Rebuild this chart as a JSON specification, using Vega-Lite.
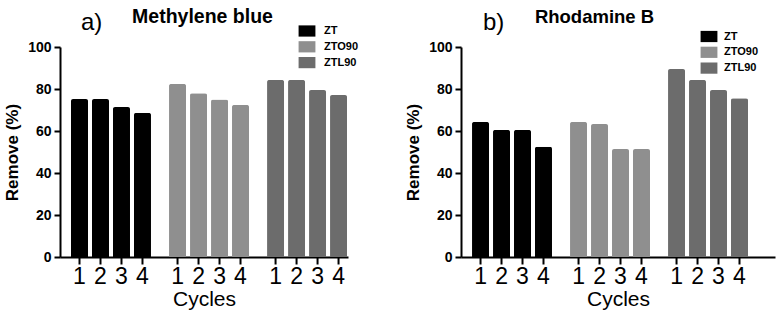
{
  "$schema": "https://vega.github.io/schema/vega-lite/v6.json",
  "padding": {"left": 3, "top": 7, "right": 6, "bottom": 5},
  "spacing": 45,
  "config": {
    "font": "Liberation Sans",
    "view": {"stroke": null},
    "axis": {"grid": false, "domainColor": "#000", "tickColor": "#000", "labelColor": "#000", "titleColor": "#000"}
  },
  "resolve": {"scale": {"color": "independent", "x": "independent", "xOffset": "independent", "y": "independent"}},
  "hconcat": [
    {
      "width": 288,
      "height": 210,
      "data": {"values": [
        {"sample": "ZT", "cycle": "1", "v": 75.2},
        {"sample": "ZT", "cycle": "2", "v": 75.2},
        {"sample": "ZT", "cycle": "3", "v": 71.4},
        {"sample": "ZT", "cycle": "4", "v": 68.6},
        {"sample": "ZTO90", "cycle": "1", "v": 82.4},
        {"sample": "ZTO90", "cycle": "2", "v": 78.0},
        {"sample": "ZTO90", "cycle": "3", "v": 75.0},
        {"sample": "ZTO90", "cycle": "4", "v": 72.4},
        {"sample": "ZTL90", "cycle": "1", "v": 84.3},
        {"sample": "ZTL90", "cycle": "2", "v": 84.3},
        {"sample": "ZTL90", "cycle": "3", "v": 79.5},
        {"sample": "ZTL90", "cycle": "4", "v": 77.1}
      ]},
      "layer": [
        {
          "mark": {"type": "bar", "cornerRadiusEnd": 2},
          "encoding": {
            "x": {"field": "sample", "type": "nominal", "sort": ["ZT", "ZTO90", "ZTL90"],
              "scale": {"domain": ["ZT", "ZTO90", "ZTL90"], "paddingInner": 0.184, "paddingOuter": 0.061, "align": 0.92},
              "axis": {"labels": false, "ticks": false, "domainWidth": 2, "title": "Cycles", "titleFontSize": 21, "titleFontWeight": "normal", "titlePadding": 31}},
            "xOffset": {"field": "cycle", "type": "nominal", "scale": {"domain": ["1", "2", "3", "4"], "paddingInner": 0.19, "paddingOuter": 0}},
            "y": {"field": "v", "type": "quantitative", "scale": {"domain": [0, 100], "nice": false},
              "axis": {"values": [0, 20, 40, 60, 80, 100], "title": "Remove (%)", "titleFontSize": 17, "titleFontWeight": "bold", "titlePadding": 6,
                "labelFontSize": 14, "labelFontWeight": "bold", "labelPadding": 3, "tickSize": 6, "tickWidth": 2, "domainWidth": 2}},
            "color": {"field": "sample", "type": "nominal", "scale": {"domain": ["ZT", "ZTO90", "ZTL90"], "range": ["#000000", "#8f8f8f", "#6c6c6c"]},
              "legend": {"title": null, "orient": "none", "legendX": 241, "legendY": -22, "padding": 0,
                "symbolType": "M-1.5,-1L1.5,-1L1.5,1L-1.5,1Z", "symbolSize": 126, "symbolStrokeWidth": 0, "symbolOpacity": 1,
                "labelFontSize": 11, "labelFontWeight": "bold", "labelColor": "#000", "labelOffset": 11, "rowPadding": 3.8}}
          }
        },
        {
          "mark": {"type": "point", "shape": "M0,0L0,1", "size": 225, "filled": false, "strokeWidth": 2, "color": "#000", "opacity": 1},
          "encoding": {
            "x": {"field": "sample", "type": "nominal"},
            "xOffset": {"field": "cycle", "type": "nominal"},
            "y": {"datum": 0}
          }
        },
        {
          "mark": {"type": "text", "fontSize": 23, "baseline": "alphabetic", "dy": 27, "color": "#000"},
          "encoding": {
            "x": {"field": "sample", "type": "nominal"},
            "xOffset": {"field": "cycle", "type": "nominal"},
            "y": {"datum": 0},
            "text": {"field": "cycle"}
          }
        },
        {
          "data": {"values": [{"lab": "a)"}]},
          "mark": {"type": "text", "fontSize": 24, "align": "left", "baseline": "alphabetic", "dx": -30, "dy": -17, "color": "#000"},
          "encoding": {
            "x": {"datum": "ZT"},
            "y": {"datum": 100},
            "text": {"field": "lab"}
          }
        },
        {
          "data": {"values": [{"lab": "Methylene blue"}]},
          "mark": {"type": "text", "fontSize": 19.5, "fontWeight": "bold", "align": "center", "baseline": "alphabetic", "dx": -6.5, "dy": -24, "color": "#000"},
          "encoding": {
            "x": {"datum": "ZTO90"},
            "y": {"datum": 100},
            "text": {"field": "lab"}
          }
        }
      ]
    },
    {
      "width": 314,
      "height": 210,
      "data": {"values": [
        {"sample": "ZT", "cycle": "1", "v": 64.3},
        {"sample": "ZT", "cycle": "2", "v": 60.5},
        {"sample": "ZT", "cycle": "3", "v": 60.5},
        {"sample": "ZT", "cycle": "4", "v": 52.5},
        {"sample": "ZTO90", "cycle": "1", "v": 64.3},
        {"sample": "ZTO90", "cycle": "2", "v": 63.3},
        {"sample": "ZTO90", "cycle": "3", "v": 51.4},
        {"sample": "ZTO90", "cycle": "4", "v": 51.4},
        {"sample": "ZTL90", "cycle": "1", "v": 89.5},
        {"sample": "ZTL90", "cycle": "2", "v": 84.3},
        {"sample": "ZTL90", "cycle": "3", "v": 79.5},
        {"sample": "ZTL90", "cycle": "4", "v": 75.6}
      ]},
      "layer": [
        {
          "mark": {"type": "bar", "cornerRadiusEnd": 2},
          "encoding": {
            "x": {"field": "sample", "type": "nominal", "sort": ["ZT", "ZTO90", "ZTL90"],
              "scale": {"domain": ["ZT", "ZTO90", "ZTL90"], "paddingInner": 0.184, "paddingOuter": 0.194, "align": 0.29},
              "axis": {"labels": false, "ticks": false, "domainWidth": 2, "title": "Cycles", "titleFontSize": 21, "titleFontWeight": "normal", "titlePadding": 31}},
            "xOffset": {"field": "cycle", "type": "nominal", "scale": {"domain": ["1", "2", "3", "4"], "paddingInner": 0.19, "paddingOuter": 0}},
            "y": {"field": "v", "type": "quantitative", "scale": {"domain": [0, 100], "nice": false},
              "axis": {"values": [0, 20, 40, 60, 80, 100], "title": "Remove (%)", "titleFontSize": 17, "titleFontWeight": "bold", "titlePadding": 6,
                "labelFontSize": 14, "labelFontWeight": "bold", "labelPadding": 3, "tickSize": 6, "tickWidth": 2, "domainWidth": 2}},
            "color": {"field": "sample", "type": "nominal", "scale": {"domain": ["ZT", "ZTO90", "ZTL90"], "range": ["#000000", "#8f8f8f", "#6c6c6c"]},
              "legend": {"title": null, "orient": "none", "legendX": 242, "legendY": -16.5, "padding": 0,
                "symbolType": "M-1.5,-1L1.5,-1L1.5,1L-1.5,1Z", "symbolSize": 126, "symbolStrokeWidth": 0, "symbolOpacity": 1,
                "labelFontSize": 11, "labelFontWeight": "bold", "labelColor": "#000", "labelOffset": 9, "rowPadding": 3.8}}
          }
        },
        {
          "mark": {"type": "point", "shape": "M0,0L0,1", "size": 225, "filled": false, "strokeWidth": 2, "color": "#000", "opacity": 1},
          "encoding": {
            "x": {"field": "sample", "type": "nominal"},
            "xOffset": {"field": "cycle", "type": "nominal"},
            "y": {"datum": 0}
          }
        },
        {
          "mark": {"type": "text", "fontSize": 23, "baseline": "alphabetic", "dy": 27, "color": "#000"},
          "encoding": {
            "x": {"field": "sample", "type": "nominal"},
            "xOffset": {"field": "cycle", "type": "nominal"},
            "y": {"datum": 0},
            "text": {"field": "cycle"}
          }
        },
        {
          "data": {"values": [{"lab": "b)"}]},
          "mark": {"type": "text", "fontSize": 24, "align": "left", "baseline": "alphabetic", "dx": -29, "dy": -17, "color": "#000"},
          "encoding": {
            "x": {"datum": "ZT"},
            "y": {"datum": 100},
            "text": {"field": "lab"}
          }
        },
        {
          "data": {"values": [{"lab": "Rhodamine B"}]},
          "mark": {"type": "text", "fontSize": 18.5, "fontWeight": "bold", "align": "center", "baseline": "alphabetic", "dx": -15.5, "dy": -24, "color": "#000"},
          "encoding": {
            "x": {"datum": "ZTO90"},
            "y": {"datum": 100},
            "text": {"field": "lab"}
          }
        }
      ]
    }
  ]
}
